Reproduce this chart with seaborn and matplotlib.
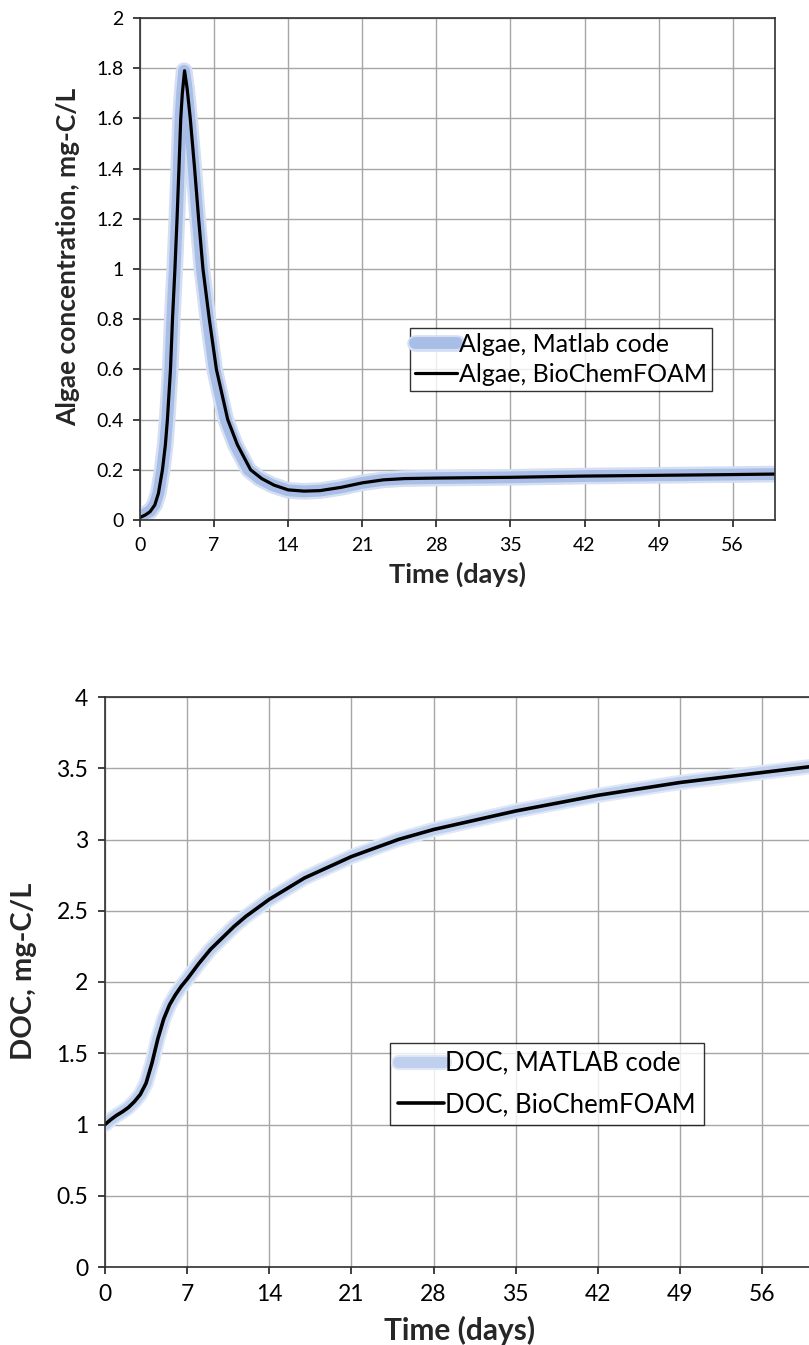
import numpy as np
import pandas as pd
import matplotlib
matplotlib.use("Agg")
import matplotlib.pyplot as plt
import matplotlib.patheffects as pe
import seaborn as sns

# Algae concentration (mg-C/L) over time (days), BioChemFOAM run
algae_days_foam = [0, 0.5, 0.95, 1.4, 1.74, 2.12, 2.4, 2.59, 2.88, 3.07, 3.3, 3.5, 3.68,
                   3.85, 4.0, 4.21, 4.45, 4.75, 5.16, 5.54, 5.95, 6.55, 7.22, 8.29, 9.2,
                   10.45, 11.5, 12.66, 14, 15.5, 17, 19, 21, 23, 25, 28, 35, 42, 49, 56, 60]
algae_foam = [0.01, 0.02, 0.033, 0.06, 0.106, 0.2, 0.3, 0.4, 0.6, 0.8, 1.0, 1.2, 1.4,
              1.6, 1.7, 1.79, 1.72, 1.6, 1.4, 1.2, 1.0, 0.8, 0.6, 0.4, 0.3,
              0.2, 0.165, 0.139, 0.12, 0.115, 0.117, 0.13, 0.148, 0.16, 0.165, 0.167,
              0.17, 0.175, 0.178, 0.181, 0.183]

# Algae concentration (mg-C/L) over time (days), Matlab code
algae_days_matlab = [0, 0.5, 0.95, 1.4, 1.74, 2.1, 2.38, 2.57, 2.86, 3.05, 3.28, 3.48,
                     3.66, 3.83, 3.98, 4.17, 4.4, 4.68, 5.08, 5.45, 5.85, 6.42, 7.05,
                     8.1, 9.0, 10.25, 11.3, 12.5, 14, 15.5, 17, 19, 21, 23, 25, 28, 35,
                     42, 49, 56, 60]
algae_matlab = [0.015, 0.025, 0.035, 0.062, 0.108, 0.2, 0.3, 0.4, 0.6, 0.8, 1.0, 1.2,
                1.4, 1.6, 1.7, 1.79, 1.72, 1.6, 1.4, 1.2, 1.0, 0.8, 0.6, 0.4, 0.3,
                0.2, 0.165, 0.139, 0.118, 0.114, 0.117, 0.13, 0.148, 0.16, 0.165, 0.167,
                0.17, 0.175, 0.178, 0.181, 0.183]

# Dissolved organic carbon (mg-C/L) over time (days)
doc_days = [0, 0.5, 1, 1.5, 2, 2.5, 3, 3.5, 4, 4.5, 5, 5.5, 6, 6.5, 7, 8, 9, 10, 11,
            12, 14, 17, 21, 25, 28, 35, 42, 49, 56, 60]
doc_matlab = [1.0, 1.035, 1.065, 1.09, 1.12, 1.16, 1.21, 1.29, 1.43, 1.6, 1.74, 1.84,
              1.91, 1.97, 2.02, 2.13, 2.23, 2.31, 2.39, 2.46, 2.58, 2.73, 2.88, 3.0,
              3.07, 3.2, 3.31, 3.4, 3.47, 3.51]
doc_foam = [1.0, 1.035, 1.065, 1.09, 1.12, 1.16, 1.21, 1.29, 1.43, 1.6, 1.74, 1.84,
            1.91, 1.97, 2.02, 2.13, 2.23, 2.31, 2.39, 2.46, 2.58, 2.73, 2.88, 3.0,
            3.07, 3.2, 3.31, 3.4, 3.47, 3.51]

x_ticks = [0, 7, 14, 21, 28, 35, 42, 49, 56]
algae_yticks = [0, 0.2, 0.4, 0.6, 0.8, 1, 1.2, 1.4, 1.6, 1.8, 2]
algae_ylabels = ["0", "0.2", "0.4", "0.6", "0.8", "1", "1.2", "1.4", "1.6", "1.8", "2"]
doc_yticks = [0, 0.5, 1, 1.5, 2, 2.5, 3, 3.5, 4]
doc_ylabels = ["0", "0.5", "1", "1.5", "2", "2.5", "3", "3.5", "4"]

sns.set_style("white")
plt.rcParams["font.family"] = ["Lato", "DejaVu Sans"]
plt.rcParams["text.color"] = "#000000"

fig = plt.figure(figsize=(8.09, 13.45), dpi=100)
ax1 = fig.add_axes([140 / 809, 1 - 520 / 1345, (775 - 140) / 809, (520 - 18) / 1345])
ax2 = fig.add_axes([105 / 809, 1 - 1267 / 1345, (809 - 105) / 809, (1267 - 697) / 1345])

GRID = "#a6a6a6"


def style_axes(ax, yticks, ylabels, ymax, tick_fs):
    ax.set_xlim(0, 60)
    ax.set_ylim(0, ymax)
    ax.set_xticks(x_ticks)
    ax.set_xticklabels([str(t) for t in x_ticks])
    ax.set_yticks(yticks)
    ax.set_yticklabels(ylabels)
    ax.grid(True, color=GRID, linewidth=1.0)
    ax.set_axisbelow(True)
    ax.tick_params(axis="both", direction="out", length=5, width=1.2,
                   color="#202020", labelsize=tick_fs, labelcolor="#000000", pad=7,
                   bottom=True, left=True)
    for s in ax.spines.values():
        s.set_color("#303030")
        s.set_linewidth(1.2)


# Top panel: algae
df_am = pd.DataFrame({"t": algae_days_matlab, "v": algae_matlab})
df_af = pd.DataFrame({"t": algae_days_foam, "v": algae_foam})
sns.lineplot(data=df_am, x="t", y="v", ax=ax1, color="#a9bee6", linewidth=8.5,
             solid_capstyle="round", label="Algae, Matlab code",
             path_effects=[pe.Stroke(linewidth=12, foreground="#d4dff3"), pe.Normal()])
sns.lineplot(data=df_af, x="t", y="v", ax=ax1, color="#000000", linewidth=2.3,
             label="Algae, BioChemFOAM")
style_axes(ax1, algae_yticks, algae_ylabels, 2, 14)
ax1.set_xlabel("Time (days)", fontsize=19.5, fontweight="bold")
ax1.set_ylabel("Algae concentration, mg-C/L", fontsize=19, fontweight="bold")
ax1.xaxis.set_label_coords(0.5, -0.082)
ax1.yaxis.set_label_coords(-0.094, 0.525)
leg1 = ax1.legend(loc="upper left", bbox_to_anchor=((410 - 140) / 635, 1 - (328 - 18) / 502),
                  fontsize=18, frameon=True, fancybox=False, handlelength=1.7,
                  handletextpad=0.05, borderpad=0.2, labelspacing=0.28, borderaxespad=0)
leg1.get_frame().set_edgecolor("#000000")
leg1.get_frame().set_linewidth(1.0)

# Bottom panel: DOC
df_d = pd.DataFrame({"t": doc_days, "m": doc_matlab, "f": doc_foam})
sns.lineplot(data=df_d, x="t", y="m", ax=ax2, color="#bfd0ee", linewidth=8,
             solid_capstyle="round", label="DOC, MATLAB code",
             path_effects=[pe.Stroke(linewidth=11, foreground="#e0e8f7"), pe.Normal()])
sns.lineplot(data=df_d, x="t", y="f", ax=ax2, color="#000000", linewidth=2.6,
             label="DOC, BioChemFOAM")
style_axes(ax2, doc_yticks, doc_ylabels, 4, 16.5)
ax2.spines["right"].set_visible(False)
ax2.set_xlabel("Time (days)", fontsize=21.5, fontweight="bold")
ax2.set_ylabel("DOC, mg-C/L", fontsize=21, fontweight="bold")
ax2.xaxis.set_label_coords(0.504, -0.085)
ax2.yaxis.set_label_coords(-0.097, 0.518)
leg2 = ax2.legend(loc="upper left", bbox_to_anchor=((390 - 105) / 704, 1 - (1043 - 697) / 570),
                  fontsize=18.5, frameon=True, fancybox=False, handlelength=1.8,
                  handletextpad=0.05, borderpad=0.3, labelspacing=0.65, borderaxespad=0)
leg2.get_frame().set_edgecolor("#000000")
leg2.get_frame().set_linewidth(1.0)

fig.savefig("out.png", dpi=100, facecolor="white")
